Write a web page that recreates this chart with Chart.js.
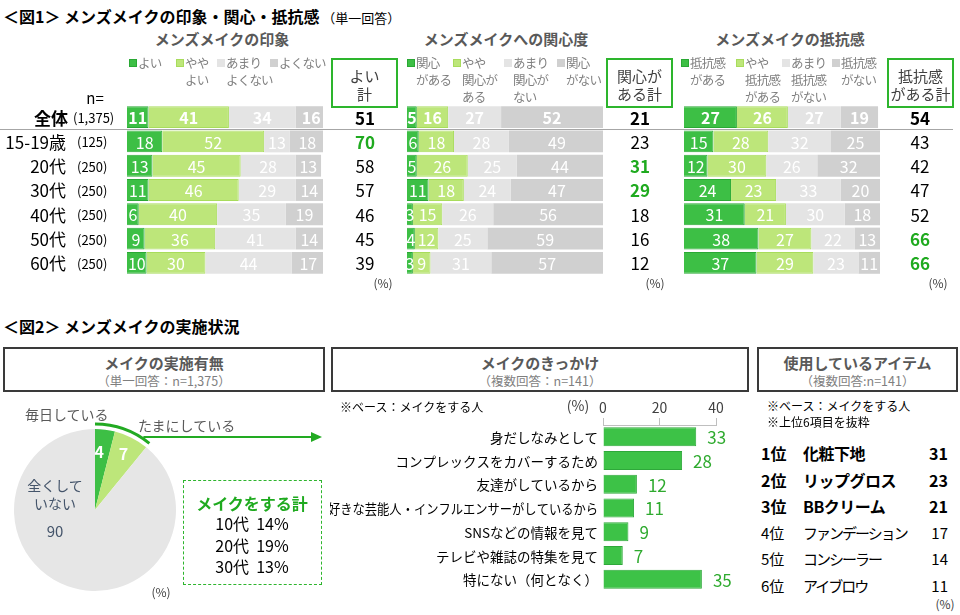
<!DOCTYPE html>
<html lang="ja">
<head>
<meta charset="UTF-8">
<title>メンズメイクの印象・関心・抵抗感</title>
<script src="https://cdn.jsdelivr.net/npm/chart.js"></script>
<style>
    body { margin: 0; width: 960px; height: 615px; position: relative; background: #fff;
           font-family: "Noto Sans CJK JP", "Noto Sans", sans-serif; overflow: hidden; }
    .t { position: absolute; white-space: nowrap; line-height: 1; }
    canvas { position: absolute; }
    .box { position: absolute; box-sizing: border-box; }
</style>
</head>
<body>
<canvas id="imp" width="400" height="170" style="left:0;top:105px"></canvas>
<canvas id="int" width="280" height="170" style="left:400px;top:105px"></canvas>
<canvas id="res" width="280" height="170" style="left:680px;top:105px"></canvas>
<canvas id="pie" width="330" height="205" style="left:0;top:395px"></canvas>
<canvas id="trig" width="420" height="200" style="left:330px;top:396px"></canvas>

<script>
// ---- データ ----
const rowNames = ['全体', '15-19歳', '20代', '30代', '40代', '50代', '60代'];
const rowN = ['(1,375)', '(125)', '(250)', '(250)', '(250)', '(250)', '(250)'];

// 図1 メンズメイクの印象
const impLegend = ['よい', 'やや\nよい', 'あまり\nよくない', 'よくない'];
const impGood = [11, 18, 13, 11, 6, 9, 10];
const impRatherGood = [41, 52, 45, 46, 40, 36, 30];
const impRatherBad = [34, 13, 28, 29, 35, 41, 44];
const impBad = [16, 18, 13, 14, 19, 14, 17];
const impTotal = [51, 70, 58, 57, 46, 45, 39];
const impHigh = [1];

// 図1 メンズメイクへの関心度
const intLegend = ['関心\nがある', 'やや\n関心が\nある', 'あまり\n関心が\nない', '関心\nがない'];
const intYes = [5, 6, 5, 11, 3, 4, 3];
const intRatherYes = [16, 18, 26, 18, 15, 12, 9];
const intRatherNo = [27, 28, 25, 24, 26, 25, 31];
const intNo = [52, 49, 44, 47, 56, 59, 57];
const intTotal = [21, 23, 31, 29, 18, 16, 12];
const intHigh = [2, 3];

// 図1 メンズメイクの抵抗感
const resLegend = ['抵抗感\nがある', 'やや\n抵抗感\nがある', 'あまり\n抵抗感\nがない', '抵抗感\nがない'];
const resYes = [27, 15, 12, 24, 31, 38, 37];
const resRatherYes = [26, 28, 30, 23, 21, 27, 29];
const resRatherNo = [27, 32, 26, 33, 30, 22, 23];
const resNo = [19, 25, 32, 20, 18, 13, 11];
const resTotal = [54, 43, 42, 47, 52, 66, 66];
const resHigh = [5, 6];

// 図2 メイクの実施有無
const doLabels = ['毎日している', 'たまにしている', '全くして\nいない'];
const doValues = [4, 7, 90];
const doAges = ['10代', '20代', '30代'];
const doAgeTotals = [14, 19, 13];

// 図2 メイクのきっかけ
const trigLabels = ['身だしなみとして', 'コンプレックスをカバーするため', '友達がしているから',
    '好きな芸能人・インフルエンサーがしているから', 'SNSなどの情報を見て', 'テレビや雑誌の特集を見て', '特にない（何となく）'];
const trigValues = [33, 28, 12, 11, 9, 7, 35];

// 図2 使用しているアイテム
const itemRanks = ['1位', '2位', '3位', '4位', '5位', '6位'];
const itemNames = ['化粧下地', 'リップグロス', 'BBクリーム', 'ファンデーション', 'コンシーラー', 'アイブロウ'];
const itemValues = [31, 23, 21, 17, 14, 11];

const FONT = '"Noto Sans CJK JP", "Noto Sans", sans-serif';
const segColors = ['#3dbf45', '#bde67a', '#e4e4e4', '#d0d0d0'];
const segBorders = ['#2aa834', '#a8dc5c', '#e4e4e4', '#d0d0d0'];
const GREEN_TXT = '#1faa1f';

// テキストを置く (yは中心)
function put(text, x, y, style, align) {
    const d = document.createElement('div');
    d.className = 't';
    d.innerHTML = text;
    d.style.left = x + 'px';
    d.style.top = y + 'px';
    const tx = align === 'center' ? '-50%' : align === 'right' ? '-100%' : '0';
    d.style.transform = 'translate(' + tx + ',-50%)';
    d.style.cssText += ';' + (style || '');
    document.body.appendChild(d);
    return d;
}
function box(x, y, w, h, style) {
    const d = document.createElement('div');
    d.className = 'box';
    d.style.cssText = 'left:' + x + 'px;top:' + y + 'px;width:' + w + 'px;height:' + h + 'px;' + style;
    document.body.appendChild(d);
    return d;
}

// ---- 図1 見出し ----
put('＜図1＞ メンズメイクの印象・関心・抵抗感<span style="font-weight:normal;font-size:13px"> （単一回答）</span>',
    3, 16, 'font-weight:bold;font-size:16px;color:#000');
put('メンズメイクの印象', 222, 38, 'font-weight:bold;font-size:15px;color:#595959', 'center');
put('メンズメイクへの関心度', 506, 38, 'font-weight:bold;font-size:15px;color:#595959', 'center');
put('メンズメイクの抵抗感', 790, 38, 'font-weight:bold;font-size:15px;color:#595959', 'center');
put('n=', 95, 97, 'font-size:15px;color:#000', 'center');

function legend(texts, xs) {
    texts.forEach((t, i) => {
        box(xs[i], 59, 8, 8, 'background:' + segColors[i] + ';border:1px solid ' + segBorders[i]);
        t.split('\n').forEach((line, k) => {
            put(line, xs[i] + 9, 63 + k * 17, 'font-size:12.5px;letter-spacing:-0.8px;color:#7f7f7f');
        });
    });
}
legend(impLegend, [129, 176, 217, 270]);
legend(intLegend, [407, 453, 504, 557]);
legend(resLegend, [681, 736, 782, 832]);

function totBox(x, w, lines) {
    box(x, 58, w, 50, 'border:2px solid #2db52d');
    lines.forEach((l, k) => put(l, x + w / 2, 75 + k * 18, 'font-size:15px;color:#404040', 'center'));
}
totBox(331, 67, ['よい', '計']);
totBox(606, 67, ['関心が', 'ある計']);
totBox(887, 67, ['抵抗感', 'がある計']);

box(0, 129, 953, 1, 'background:#a6a6a6');
put('(%)', 383, 283, 'font-size:12px;color:#404040', 'center');
put('(%)', 655, 283, 'font-size:12px;color:#404040', 'center');
put('(%)', 938, 283, 'font-size:12px;color:#404040', 'center');

// ---- 積み上げ横棒 ----
function stackChart(id, series, legendTexts, totals, high, padL, padR, totalX, withNames) {
    const labelPlugin = {
        id: 'labels_' + id,
        afterDatasetsDraw(chart) {
            const ctx = chart.ctx;
            ctx.save();
            ctx.textAlign = 'center';
            ctx.textBaseline = 'middle';
            chart.data.datasets.forEach((ds, i) => {
                chart.getDatasetMeta(i).data.forEach((bar, j) => {
                    ctx.font = (j === 0 ? 'bold ' : '') + '16px ' + FONT;
                    ctx.fillStyle = '#fff';
                    ctx.fillText(ds.data[j], (bar.x + bar.base) / 2, bar.y + 1);
                });
            });
            const yScale = chart.scales.y;
            totals.forEach((v, j) => {
                const y = yScale.getPixelForValue(j) + 1;
                const hl = high.includes(j);
                ctx.font = (j === 0 || hl ? 'bold ' : '') + '17px ' + FONT;
                ctx.fillStyle = hl ? GREEN_TXT : '#000';
                ctx.fillText(v, totalX, y);
                if (withNames) {
                    ctx.textAlign = 'right';
                    ctx.font = (j === 0 ? 'bold ' : '') + '17px ' + FONT;
                    ctx.fillStyle = '#000';
                    ctx.fillText(rowNames[j], j === 0 ? 68 : 66, y);
                    ctx.textAlign = 'left';
                    ctx.font = '13px ' + FONT;
                    ctx.fillText(rowN[j], j === 0 ? 73 : 77, y);
                    ctx.textAlign = 'center';
                }
            });
            ctx.restore();
        }
    };
    new Chart(document.getElementById(id), {
        type: 'bar',
        data: {
            labels: rowNames,
            datasets: series.map((d, i) => ({
                label: legendTexts[i].replace(/\n/g, ''),
                data: d,
                backgroundColor: segColors[i],
                borderColor: segBorders[i],
                borderWidth: i < 2 ? 1 : 0,
                barPercentage: 0.9,
                categoryPercentage: 1
            }))
        },
        options: {
            indexAxis: 'y',
            responsive: false,
            animation: false,
            layout: { padding: { left: padL, right: padR, top: 0, bottom: 0 } },
            scales: {
                x: { stacked: true, min: 0, max: 100, display: false },
                y: { stacked: true, display: false }
            },
            plugins: { legend: { display: false }, tooltip: { enabled: false } }
        },
        plugins: [labelPlugin]
    });
}
stackChart('imp', [impGood, impRatherGood, impRatherBad, impBad], impLegend, impTotal, impHigh, 127, 77, 365, true);
stackChart('int', [intYes, intRatherYes, intRatherNo, intNo], intLegend, intTotal, intHigh, 7, 77, 240, false);
stackChart('res', [resYes, resRatherYes, resRatherNo, resNo], resLegend, resTotal, resHigh, 4, 80, 240, false);

// ---- 図2 見出し ----
put('＜図2＞ メンズメイクの実施状況', 3, 326, 'font-weight:bold;font-size:16px;color:#000');
function headBox(x, w, title, sub) {
    box(x, 347, w, 45, 'border:2px solid #3a3a3a');
    put(title, x + w / 2, 362, 'font-weight:bold;font-size:15px;color:#595959', 'center');
    put(sub, x + w / 2, 381, 'font-size:12.5px;color:#7f7f7f', 'center');
}
headBox(3, 322, 'メイクの実施有無', '（単一回答：n=1,375）');
headBox(331, 418, 'メイクのきっかけ', '（複数回答：n=141）');
headBox(757, 201, '使用しているアイテム', '（複数回答:n=141）');

// ---- 円グラフ ----
put(doLabels[0], 25, 414, 'font-size:14px;color:#595959');
put(doLabels[1], 138, 425, 'font-size:14px;color:#595959');
doLabels[2].split('\n').forEach((l, k) => put(l, 55, 485 + k * 18, 'font-size:14px;color:#44546a', 'center'));
put(doValues[2], 55, 530, 'font-size:15px;color:#44546a', 'center');
box(183, 480, 139, 105, 'border:1.5px dashed #2db52d');
put('メイクをする計', 252, 503, 'font-weight:bold;font-size:16px;color:' + GREEN_TXT, 'center');
doAges.forEach((a, k) => put(a + '&nbsp;&nbsp;' + doAgeTotals[k] + '%', 252, 523 + k * 21.5, 'font-size:16px;color:#000', 'center'));
put('(%)', 161, 592, 'font-size:12px;color:#404040', 'center');

const piePlugin = {
    id: 'pieMarks',
    afterDatasetsDraw(chart) {
        const ctx = chart.ctx;
        const arc = chart.getDatasetMeta(0).data[0];
        const cx = arc.x, cy = arc.y, r = arc.outerRadius;
        const total = doValues.reduce((a, b) => a + b, 0);
        const start = -Math.PI / 2;
        const end = start + 2 * Math.PI * (doValues[0] + doValues[1]) / total;
        ctx.save();
        ctx.strokeStyle = '#22aa22';
        ctx.fillStyle = '#22aa22';
        ctx.lineWidth = 3;
        ctx.beginPath();
        ctx.arc(cx, cy, r + 5, start, end);
        ctx.stroke();
        const ex = cx + (r + 5) * Math.cos(end);
        const ly = cy - 73;
        ctx.lineWidth = 2;
        ctx.beginPath();
        ctx.moveTo(ex - 6, ly);
        ctx.lineTo(314, ly);
        ctx.stroke();
        ctx.beginPath();
        ctx.moveTo(322, ly);
        ctx.lineTo(311, ly - 5);
        ctx.lineTo(311, ly + 5);
        ctx.closePath();
        ctx.fill();
        // スライスの数値
        ctx.fillStyle = '#fff';
        ctx.font = 'bold 16px ' + FONT;
        ctx.textAlign = 'center';
        ctx.textBaseline = 'middle';
        let acc = 0;
        [0, 1].forEach(i => {
            const mid = start + 2 * Math.PI * (acc + doValues[i] / 2) / total;
            acc += doValues[i];
            const rr = r * (i === 0 ? 0.72 : 0.78);
            ctx.fillText(doValues[i], cx + rr * Math.cos(mid) - (i === 0 ? 3 : 0), cy + rr * Math.sin(mid));
        });
        ctx.restore();
    }
};
new Chart(document.getElementById('pie'), {
    type: 'pie',
    data: {
        labels: doLabels.map(l => l.replace('\n', '')),
        datasets: [{ data: doValues, backgroundColor: ['#3dbf45', '#bde67a', '#e6e6e6'], borderWidth: 0 }]
    },
    options: {
        responsive: false,
        animation: false,
        layout: { padding: { left: 14, right: 154, top: 34, bottom: 9 } },
        plugins: { legend: { display: false }, tooltip: { enabled: false } }
    },
    plugins: [piePlugin]
});

// ---- きっかけ 横棒 ----
put('※ベース：メイクをする人', 340, 407, 'font-size:12px;color:#000');
put('(%)', 578, 405, 'font-size:14px;color:#404040', 'center');

const trigPlugin = {
    id: 'trigText',
    afterDatasetsDraw(chart) {
        const ctx = chart.ctx;
        const yScale = chart.scales.y;
        const left = chart.chartArea.left;
        ctx.save();
        ctx.textBaseline = 'middle';
        chart.getDatasetMeta(0).data.forEach((bar, j) => {
            ctx.font = '17px ' + FONT;
            ctx.fillStyle = '#2eaa2e';
            ctx.textAlign = 'left';
            ctx.fillText(trigValues[j], bar.x + 11, bar.y + 1);
            // 項目名 (長いものは幅に収める)
            ctx.font = '13.5px ' + FONT;
            ctx.fillStyle = '#000';
            ctx.textAlign = 'right';
            ctx.fillText(trigLabels[j], left - 5, yScale.getPixelForValue(j) + 1, left - 3);
        });
        ctx.restore();
    }
};
new Chart(document.getElementById('trig'), {
    type: 'bar',
    data: {
        labels: trigLabels,
        datasets: [{
            data: trigValues,
            backgroundColor: '#3dc247',
            borderColor: '#2ea83a',
            borderWidth: 1,
            barPercentage: 0.8,
            categoryPercentage: 1
        }]
    },
    options: {
        indexAxis: 'y',
        responsive: false,
        animation: false,
        layout: { padding: { left: 0, right: 34, top: 0, bottom: 5 } },
        scales: {
            x: {
                position: 'top',
                min: 0, max: 40,
                afterFit: s => { s.height = 29; },
                ticks: { stepSize: 20, padding: 2, color: '#404040', font: { family: FONT, size: 14 } },
                grid: { drawOnChartArea: false, drawTicks: true, tickLength: 7, color: '#bfbfbf' },
                border: { display: true, color: '#bfbfbf' }
            },
            y: {
                afterFit: s => { s.width = 273; },
                ticks: { display: false },
                grid: { display: false },
                border: { display: false }
            }
        },
        plugins: { legend: { display: false }, tooltip: { enabled: false } }
    },
    plugins: [trigPlugin]
});

// ---- 使用しているアイテム ----
put('※ベース：メイクをする人', 767, 406, 'font-size:12px;color:#000');
put('※上位6項目を抜粋', 767, 422, 'font-size:12px;color:#000');
const itemY = [453, 480, 506, 532, 558, 585];
itemRanks.forEach((r, k) => {
    const st = k < 3 ? 'font-weight:bold;font-size:16px;color:#000' : 'font-size:15px;color:#000';
    put(r, 761, itemY[k], st);
    put(itemNames[k], 803, itemY[k], st + (k < 3 ? ';letter-spacing:-0.5px' : ';letter-spacing:-2px'));
    put(itemValues[k], 948, itemY[k], st, 'right');
});
put('(%)', 945, 604, 'font-size:12px;color:#404040', 'center');
</script>
</body>
</html>
